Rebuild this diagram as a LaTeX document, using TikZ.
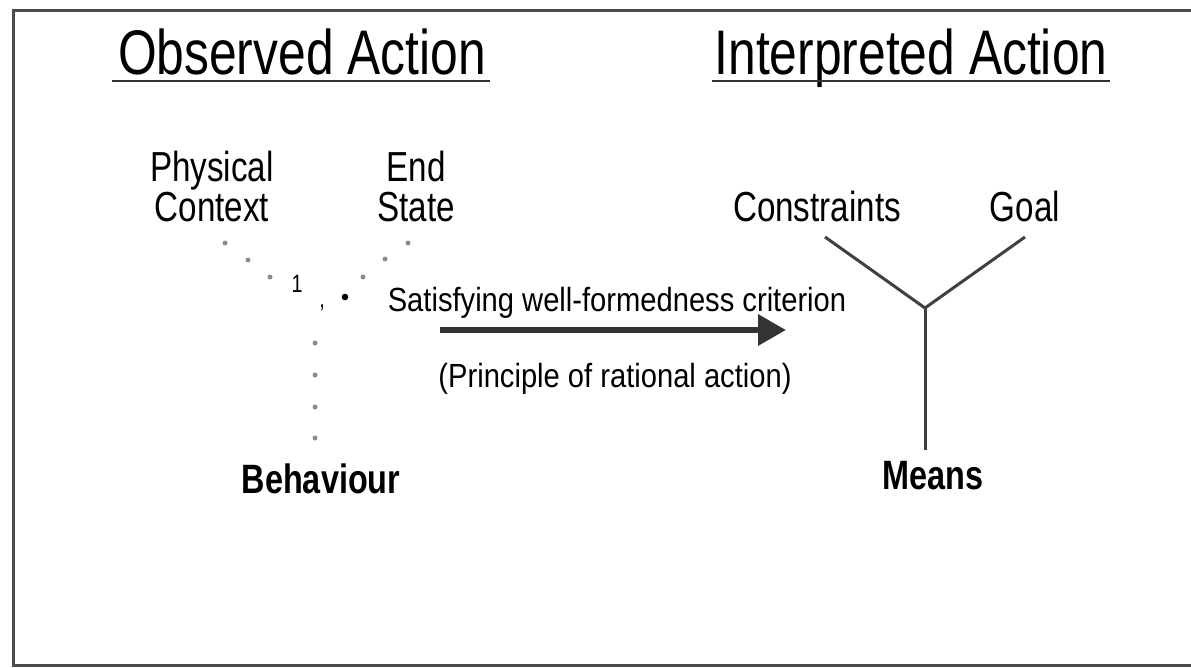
\documentclass[tikz,border=0pt]{standalone}
\usepackage{fontspec}
\setmainfont[FakeStretch=0.79]{Liberation Sans}
\newfontfamily\smallfam[FakeStretch=0.87]{Liberation Sans}
\usetikzlibrary{arrows.meta}
\tikzset{
  title/.style={anchor=base, inner sep=0pt, font=\fontsize{63}{63}\selectfont},
  label/.style={inner sep=0pt, font=\fontsize{42}{40}\selectfont, align=center},
  blabel/.style={anchor=base, inner sep=0pt, font=\fontsize{41}{41}\selectfont\bfseries},
  small/.style={anchor=base, inner sep=0pt, font=\smallfam\fontsize{33.5}{33.5}\selectfont},
  tiny/.style={anchor=base, inner sep=0pt, font=\fontsize{25}{25}\selectfont},
  yline/.style={draw=black!75, line width=3pt},
  dotpt/.style={fill=black!45, draw=none},
  frameline/.style={draw=black!70, line width=3pt},
}
\begin{document}
\begin{tikzpicture}[x=1pt, y=-1pt]
\useasboundingbox (0,0) rectangle (1191,668);
% frame
\draw[frameline] (1200,11) -- (13,11) -- (13,665) -- (1200,665);
% titles
\node[title] (obs) at (302,75) {Observed Action};
\node[title] (int) at (911,75) {Interpreted Action};
\draw[line width=2.5pt, black!80] (112,81) -- (490,81);
\draw[line width=2.5pt, black!80] (712,81) -- (1110,81);
% left labels
\node[label, anchor=north] (pc) at (212,151) {Physical\\Context};
\node[label, anchor=north] (es) at (416,151) {End\\State};
\node[blabel] (beh) at (321,493) {Behaviour};
% dots
\foreach \p in {(225,243),(248,260),(270,277),(408,243),(385,259),(363,277),(315,343),(315,375),(315,407),(315,438)}
  \fill[dotpt] \p circle (2.5);
\fill[black] (345,297) circle (3.3);
\node[tiny] (one) at (297,293) {1};
\node[tiny] (comma) at (322,308) {,};
% arrow
\node[small] (sat) at (617,312) {Satisfying well-formedness criterion};
\node[small] (pra) at (615,387) {(Principle of rational action)};
\coordinate (as) at (440,330);
\coordinate (ae) at (786,330);
\draw[line width=6.5pt, black!80, -{Triangle[length=28pt,width=30pt]}] (as) -- (ae);
% right labels
\node[label, anchor=base] (con) at (817,222) {Constraints};
\node[label, anchor=base] (goal) at (1025,222) {Goal};
\node[blabel] (means) at (933,489) {Means};
\coordinate (j) at (925,308);
\coordinate (cs) at (825,237);
\coordinate (ge) at (1025,237);
\coordinate (mt) at (925,450);
\draw[yline] (cs) -- (j) -- (ge);
\draw[yline] (j) -- (mt);
\end{tikzpicture}
\end{document}
